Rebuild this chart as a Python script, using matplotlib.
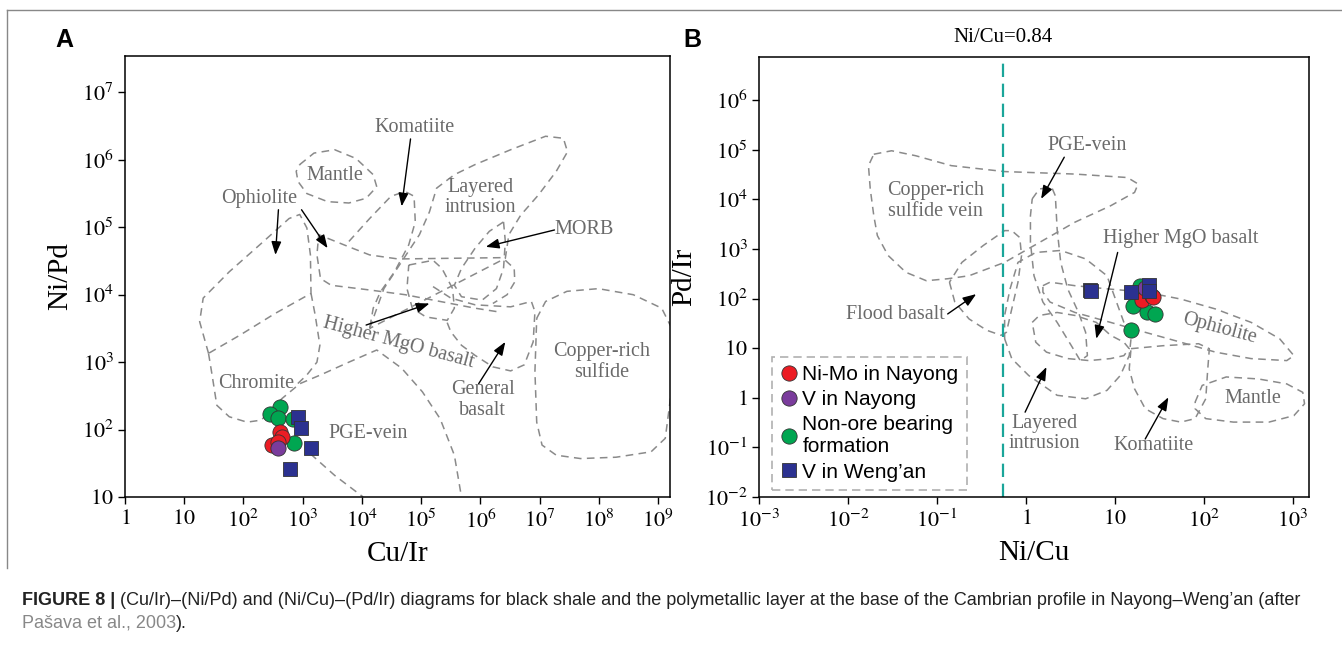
import numpy as np
import matplotlib
matplotlib.use("Agg")
import matplotlib.pyplot as plt
from matplotlib.lines import Line2D

plt.rcParams['font.family'] = ['Liberation Serif', 'DejaVu Serif']
plt.rcParams['mathtext.fontset'] = 'stix'

# ---------------- data, panel A: Cu/Ir vs Ni/Pd ----------------
ni_mo_a_cu_ir = [417, 450, 303, 384]
ni_mo_a_ni_pd = [91, 77, 59, 65]
v_nayong_a_cu_ir = [384]
v_nayong_a_ni_pd = [53]
non_ore_a_cu_ir = [417, 282, 383, 690, 713]
non_ore_a_ni_pd = [219, 169, 148, 142, 63]
v_wengan_a_cu_ir = [837, 938, 1390, 613]
v_wengan_a_ni_pd = [152, 104, 53, 26]

# ---------------- data, panel B: Ni/Cu vs Pd/Ir ----------------
ni_mo_b_ni_cu = [20, 26, 27]
ni_mo_b_pd_ir = [92, 115, 110]
v_nayong_b_ni_cu = [22]
v_nayong_b_pd_ir = [160]
non_ore_b_ni_cu = [19, 15.9, 23, 28, 15]
non_ore_b_pd_ir = [182, 72, 53, 49, 23]
v_wengan_b_ni_cu = [5.2, 5.4, 15, 24, 24]
v_wengan_b_pd_ir = [150, 140, 135, 185, 140]

ni_cu_line = 0.555

# tick labels
a_xticks = [10**i for i in range(0, 10)]
a_xlabels = ['$1$', '$10$'] + ['$10^{%d}$' % i for i in range(2, 10)]
a_yticks = [10**i for i in range(1, 8)]
a_ylabels = ['$10$'] + ['$10^{%d}$' % i for i in range(2, 8)]
b_xticks = [10**i for i in range(-3, 4)]
b_xlabels = ['$10^{-3}$', '$10^{-2}$', '$10^{-1}$', '$1$', '$10$', '$10^{2}$', '$10^{3}$']
b_yticks = [10**i for i in range(-2, 7)]
b_ylabels = ['$10^{-2}$', '$10^{-1}$', '$1$', '$10$'] + ['$10^{%d}$' % i for i in range(2, 7)]

# field outlines (log10 x, log10 y)
a_fields = {
    'mantle': [(2.95, 5.93), (3.19, 6.10), (3.54, 6.15), (3.90, 6.02), (4.19, 5.78), (4.25, 5.60),
               (4.07, 5.43), (3.78, 5.36), (3.42, 5.38), (3.07, 5.50), (2.92, 5.68), (2.89, 5.83)],
    'ophiolite': [(1.41, 3.13), (1.26, 3.60), (1.32, 3.95), (1.76, 4.34), (2.30, 4.76), (2.77, 5.13),
                  (2.95, 5.19), (3.07, 4.99), (3.13, 4.59), (3.14, 4.02), (2.53, 3.72), (1.94, 3.40)],
    'morb': [(6.39, 5.08), (6.42, 4.79), (6.39, 4.39), (6.27, 4.09), (6.03, 3.92), (5.68, 3.97),
             (5.56, 4.14), (5.68, 4.39), (5.91, 4.69), (6.15, 4.94)],
    'mgo': [(4.79, 4.44), (5.20, 4.51), (5.35, 4.39), (5.53, 4.09), (5.56, 3.80), (5.44, 3.62),
            (5.08, 3.67), (4.85, 3.80), (4.76, 4.09)],
    'copper': [(6.95, 3.65), (7.10, 3.90), (7.46, 4.05), (7.99, 4.09), (8.58, 4.00), (9.06, 3.80),
               (9.23, 3.50), (9.23, 2.61), (9.12, 1.87), (8.88, 1.67), (8.29, 1.59), (7.69, 1.57),
               (7.28, 1.62), (7.04, 1.77), (6.95, 2.11), (6.92, 2.86)],
    'layered': [(4.13, 3.50), (4.37, 4.09), (4.67, 4.49), (4.97, 4.89), (5.14, 5.23), (5.26, 5.58),
                (5.56, 5.78), (5.91, 5.93), (6.51, 6.15), (7.10, 6.35), (7.40, 6.32), (7.47, 6.12),
                (7.28, 5.83), (6.98, 5.48), (6.68, 5.18), (6.48, 4.89), (6.42, 4.54)],
}
a_lines = {
    'chromite': [(1.41, 3.13), (1.47, 2.81), (1.55, 2.36), (1.76, 2.19), (2.06, 2.11), (2.30, 2.14),
                 (2.65, 2.46), (2.95, 2.68), (3.30, 2.81), (3.78, 3.00), (4.25, 3.18), (4.67, 2.91),
                 (5.02, 2.56), (5.32, 2.16), (5.56, 1.62), (5.68, 1.00)],
    'ophiolite_down': [(3.14, 4.02), (3.21, 3.70), (3.29, 3.25), (3.24, 3.00), (3.07, 2.81), (2.89, 2.66)],
    'pge_low': [(3.13, 1.64), (3.54, 1.32), (4.02, 1.00)],
    'loop': [(6.27, 3.75), (5.91, 3.80), (5.20, 3.92), (4.73, 4.00), (4.13, 4.07), (3.48, 4.14),
             (3.30, 4.24), (3.24, 4.59), (3.27, 4.89), (3.78, 4.71), (4.13, 4.59), (4.61, 4.53),
             (5.50, 4.54), (6.42, 4.55)],
    'komatiite': [(3.78, 4.79), (4.13, 5.13), (4.49, 5.46), (4.73, 5.53), (4.88, 5.46), (4.90, 5.08),
                  (4.79, 4.74), (4.55, 4.34), (4.31, 4.04), (4.19, 3.80), (4.13, 3.50)],
    'general': [(5.20, 4.12), (5.50, 3.95), (5.91, 3.85), (6.51, 3.82), (6.86, 3.90), (6.92, 3.75),
                (6.89, 3.30), (6.74, 2.96), (6.51, 2.87), (6.21, 2.93), (5.91, 3.10), (5.68, 3.25),
                (5.50, 3.45), (5.41, 3.65)],
    'right_hook': [(6.42, 4.51), (6.57, 4.39), (6.58, 4.19), (6.45, 4.00), (6.21, 3.87)],
}
b_fields = {
    'copper_vein': [(-1.71, 4.91), (-1.51, 4.98), (-1.24, 4.88), (-0.84, 4.68), (-0.24, 4.56), (0.55, 4.51),
                    (1.14, 4.44), (1.26, 4.31), (1.22, 4.14), (0.95, 3.87), (0.55, 3.54), (0.15, 3.13),
                    (-0.24, 2.73), (-0.64, 2.46), (-0.88, 2.40), (-1.12, 2.36), (-1.35, 2.53), (-1.55, 2.87),
                    (-1.67, 3.27), (-1.71, 3.67), (-1.75, 4.21), (-1.77, 4.68)],
    'flood': [(-0.86, 2.33), (-0.80, 1.93), (-0.64, 1.59), (-0.44, 1.36), (-0.28, 1.26), (-0.22, 1.32),
              (-0.16, 1.79), (-0.09, 2.33), (-0.05, 2.87), (-0.07, 3.23), (-0.16, 3.37), (-0.24, 3.37),
              (-0.48, 3.07), (-0.72, 2.73)],
    'pge': [(0.07, 4.01), (0.15, 4.21), (0.29, 4.24), (0.33, 4.07), (0.35, 3.40), (0.39, 2.73),
            (0.47, 2.19), (0.59, 1.72), (0.67, 1.32), (0.69, 0.85), (0.61, 0.75), (0.51, 1.05),
            (0.35, 1.52), (0.19, 1.93), (0.09, 2.46), (0.05, 3.13), (0.05, 3.67)],
    'layered': [(-0.24, 1.19), (-0.16, 0.79), (0.03, 0.45), (0.35, 0.05), (0.67, -0.02), (0.91, 0.15),
                (1.06, 0.45), (1.16, 0.85), (1.18, 1.19), (1.10, 1.52), (0.91, 2.46), (0.67, 2.80),
                (0.39, 2.97), (0.11, 2.93), (-0.09, 2.73), (-0.18, 2.19), (-0.24, 1.66)],
    'mgo': [(0.07, 1.52), (0.15, 1.66), (0.35, 1.72), (0.55, 1.66), (0.79, 1.52), (0.95, 1.26),
            (1.10, 1.12), (1.16, 0.99), (1.10, 0.85), (0.95, 0.79), (0.71, 0.75), (0.47, 0.79),
            (0.23, 0.92), (0.11, 1.12)],
    'ophiolite': [(0.19, 2.26), (0.27, 2.33), (0.55, 2.26), (0.95, 2.19), (1.34, 2.13), (1.74, 1.99),
                  (2.13, 1.79), (2.53, 1.52), (2.85, 1.19), (3.01, 0.85), (2.93, 0.75), (2.53, 0.79),
                  (2.13, 0.92), (1.74, 1.12), (1.34, 1.32), (0.95, 1.52), (0.55, 1.72), (0.27, 1.93),
                  (0.19, 2.13)],
    'komatiite': [(1.18, 0.99), (1.54, 1.05), (1.94, 1.09), (2.06, 0.99), (2.04, 0.52), (2.02, -0.02),
                  (1.90, -0.42), (1.74, -0.49), (1.54, -0.42), (1.34, -0.22), (1.22, 0.18), (1.16, 0.58)],
    'mantle': [(1.90, -0.09), (1.98, 0.25), (2.25, 0.42), (2.61, 0.38), (2.93, 0.28), (3.11, 0.11),
               (3.13, -0.12), (3.01, -0.36), (2.73, -0.49), (2.33, -0.49), (2.02, -0.42), (1.90, -0.22)],
}

# labels: text, (log x, log y), rotation
a_labels = [('Komatiite', (4.89, 6.48), 0), ('Mantle', (3.54, 5.77), 0), ('Ophiolite', (2.27, 5.43), 0),
            ('Layered\nintrusion', (6.0, 5.44), 0), ('MORB', (7.75, 4.96), 0),
            ('Higher MgO basalt', (4.61, 3.28), -15), ('General\nbasalt', (6.04, 2.44), 0),
            ('Copper-rich\nsulfide', (8.05, 3.0), 0), ('Chromite', (2.22, 2.68), 0),
            ('PGE-vein', (4.10, 1.94), 0)]
a_arrows = [((4.82, 6.31), (4.67, 5.31)), ((2.59, 5.26), (2.54, 4.59)), ((2.98, 5.26), (3.42, 4.69)),
            ((7.25, 4.96), (6.09, 4.71)), ((4.07, 3.55), (5.14, 3.87)), ((5.97, 2.68), (6.42, 3.30))]
b_labels = [('PGE-vein', (0.69, 5.09), 0), ('Copper-rich\nsulfide vein', (-1.02, 3.97), 0),
            ('Higher MgO basalt', (1.74, 3.21), 0), ('Flood basalt', (-1.47, 1.67), 0),
            ('Ophiolite', (2.17, 1.39), -15), ('Mantle', (2.55, -0.02), 0),
            ('Komatiite', (1.43, -0.96), 0), ('Layered\nintrusion', (0.21, -0.72), 0)]
b_arrows = [((0.43, 4.85), (0.17, 4.01)), ((1.03, 2.93), (0.79, 1.19)), ((-0.88, 1.69), (-0.56, 2.09)),
            ((1.34, -0.83), (1.60, 0.01)), ((-0.01, -0.29), (0.23, 0.62))]

col_red = '#ec1c24'
col_purple = '#7a3c9c'
col_green = '#00a651'
col_blue = '#2b3190'
field_col = '#8a8a8a'
text_col = '#6a6a6a'

fig = plt.figure(figsize=(13.42, 6.48), dpi=100)
W, H = 1342.0, 648.0
axA = fig.add_axes([125 / W, 1 - 497 / H, 545 / W, 441 / H])
axB = fig.add_axes([759 / W, 1 - 497 / H, 550 / W, 440 / H])


def draw_outline(ax, pts, closed):
    arr = np.array(pts)
    if closed:
        arr = np.vstack([arr, arr[:1]])
    ax.plot(10 ** arr[:, 0], 10 ** arr[:, 1], ls=(0, (5, 3.5)), color=field_col, lw=1.1, zorder=1)


def put_labels(ax, labels, arrows):
    for txt, (lx, ly), rot in labels:
        ax.text(10 ** lx, 10 ** ly, txt, ha='center', va='center', rotation=rot,
                color=text_col, fontsize=14.5, linespacing=1.1, zorder=2)
    for (tx, ty), (hx, hy) in arrows:
        ax.annotate('', xy=(10 ** hx, 10 ** hy), xytext=(10 ** tx, 10 ** ty),
                    arrowprops=dict(arrowstyle='-|>,head_length=0.8,head_width=0.3', color='black',
                                    lw=1.0, shrinkA=0, shrinkB=0), zorder=3)


for pts in a_fields.values():
    draw_outline(axA, pts, True)
for pts in a_lines.values():
    draw_outline(axA, pts, False)
for pts in b_fields.values():
    draw_outline(axB, pts, True)
put_labels(axA, a_labels, a_arrows)
put_labels(axB, b_labels, b_arrows)

mk = dict(edgecolors='#333333', linewidths=0.6, zorder=5)
axA.scatter(non_ore_a_cu_ir, non_ore_a_ni_pd, s=120, c=col_green, marker='o', **mk)
axA.scatter(ni_mo_a_cu_ir, ni_mo_a_ni_pd, s=120, c=col_red, marker='o', **mk)
axA.scatter(v_nayong_a_cu_ir, v_nayong_a_ni_pd, s=120, c=col_purple, marker='o', **mk)
axA.scatter(v_wengan_a_cu_ir, v_wengan_a_ni_pd, s=100, c=col_blue, marker='s', **mk)

axB.scatter(non_ore_b_ni_cu, non_ore_b_pd_ir, s=120, c=col_green, marker='o', **mk)
axB.scatter(ni_mo_b_ni_cu, ni_mo_b_pd_ir, s=120, c=col_red, marker='o', **mk)
axB.scatter(v_nayong_b_ni_cu, v_nayong_b_pd_ir, s=120, c=col_purple, marker='o', **mk)
axB.scatter(v_wengan_b_ni_cu, v_wengan_b_pd_ir, s=100, c=col_blue, marker='s', **mk)

axB.axvline(ni_cu_line, color='#1aa59a', lw=1.6, ls=(0, (6, 3)), zorder=2)

for ax, xt, xl, yt, yl, xlim, ylim, xlab, ylab in [
        (axA, a_xticks, a_xlabels, a_yticks, a_ylabels, (1, 10 ** 9.2), (10, 10 ** 7.54), 'Cu/Ir', 'Ni/Pd'),
        (axB, b_xticks, b_xlabels, b_yticks, b_ylabels, (1e-3, 10 ** 3.18), (1e-2, 10 ** 6.87), 'Ni/Cu', 'Pd/Ir')]:
    ax.set_xscale('log')
    ax.set_yscale('log')
    ax.set_xlim(*xlim)
    ax.set_ylim(*ylim)
    ax.set_xticks(xt)
    ax.set_xticklabels(xl)
    ax.set_yticks(yt)
    ax.set_yticklabels(yl)
    ax.minorticks_off()
    ax.tick_params(direction='out', length=5, width=1, labelsize=16, pad=3, colors='black')
    ax.tick_params(axis='x', pad=4)
    for s in ax.spines.values():
        s.set_linewidth(1.1)
    ax.set_xlabel(xlab, fontsize=21, labelpad=6)
    ax.set_ylabel(ylab, fontsize=21, labelpad=6)

handles = [Line2D([], [], ls='', marker='o', ms=11, mfc=col_red, mec='#333333', mew=0.6),
           Line2D([], [], ls='', marker='o', ms=11, mfc=col_purple, mec='#333333', mew=0.6),
           Line2D([], [], ls='', marker='o', ms=11, mfc=col_green, mec='#333333', mew=0.6),
           Line2D([], [], ls='', marker='s', ms=10, mfc=col_blue, mec='#333333', mew=0.6)]
names = ['Ni-Mo in Nayong', 'V in Nayong', 'Non-ore bearing\nformation', 'V in Weng\u2019an']
leg = axB.legend(handles, names, loc='lower left', bbox_to_anchor=(0.024, 0.016), borderaxespad=0,
                 prop={'family': 'Liberation Sans', 'size': 15}, handlelength=0.8, handletextpad=0.25,
                 labelspacing=0.3, borderpad=0.4, fancybox=False, framealpha=1)
leg.get_frame().set_linestyle((0, (5, 3)))
leg.get_frame().set_edgecolor('#b0b0b0')
leg.get_frame().set_linewidth(1.2)
leg.set_zorder(6)

fig.text(55 / W, 1 - 40 / H, 'A', fontsize=18, fontweight='bold', family='Liberation Sans', va='center')
fig.text(683 / W, 1 - 40 / H, 'B', fontsize=18, fontweight='bold', family='Liberation Sans', va='center')
fig.text(1003 / W, 1 - 37 / H, 'Ni/Cu=0.84', fontsize=15, ha='center', va='center')

# figure frame
fig.add_artist(Line2D([7 / W, 1], [1 - 10 / H, 1 - 10 / H], color='#888888', lw=1))
fig.add_artist(Line2D([7 / W, 7 / W], [1 - 10 / H, 1 - 568 / H], color='#888888', lw=1))

# caption
cap_font = ['Liberation Sans Narrow', 'Liberation Sans']
cap_y1, cap_y2 = 605, 628
r = fig.canvas.get_renderer()
t1 = fig.text(22 / W, 1 - cap_y1 / H, 'FIGURE 8 |', fontsize=13, fontweight='bold', family=cap_font,
              color='#222222', va='baseline')
fig.canvas.draw()
bb = t1.get_window_extent(r)
fig.text(bb.x1 / W, 1 - cap_y1 / H, ' (Cu/Ir)\u2013(Ni/Pd) and (Ni/Cu)\u2013(Pd/Ir) diagrams for black shale and the '
         'polymetallic layer at the base of the Cambrian profile in Nayong\u2013Weng\u2019an (after',
         fontsize=13, family=cap_font, color='#222222', va='baseline')
t3 = fig.text(22 / W, 1 - cap_y2 / H, 'Pa\u0161ava et al., 2003', fontsize=13, family=cap_font,
              color='#888888', va='baseline')
fig.canvas.draw()
bb3 = t3.get_window_extent(r)
fig.text(bb3.x1 / W, 1 - cap_y2 / H, ').', fontsize=13, family=cap_font, color='#222222', va='baseline')

fig.savefig('out.png', dpi=100)
